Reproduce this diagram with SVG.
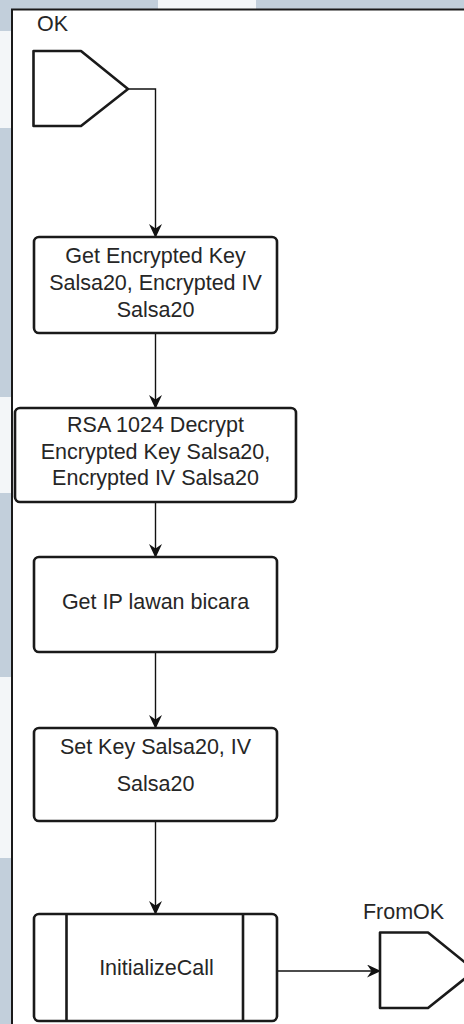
<svg xmlns="http://www.w3.org/2000/svg" width="464" height="1024" viewBox="0 0 464 1024">
  <defs>
    <style>
      .frame { fill: none; stroke: #1a1a1a; }
      .node { fill: #ffffff; stroke: #1a1a1a; stroke-width: 2.6; stroke-linejoin: round; }
      .edge { fill: none; stroke: #111111; stroke-width: 1.4; }
      .label { font-family: "Liberation Sans", Arial, sans-serif; font-size: 21.5px; fill: #262626; text-anchor: middle; }
      .bg { fill: #c2cfdb; }
      .bgl { fill: #f3f6f8; }
    </style>
    <marker id="arrow" markerUnits="userSpaceOnUse" markerWidth="14" markerHeight="13" viewBox="0 0 14 13" refX="13" refY="6.5" orient="auto">
      <path d="M0,0 L14,6.5 L0,13 L4.5,6.5 Z" fill="#111111"/>
    </marker>
  </defs>

  <!-- page background and window edges -->
  <rect x="0" y="0" width="464" height="1024" fill="#ffffff"/>
  <g id="backdrop">
    <rect class="bg" x="0" y="0" width="158" height="9"/>
    <rect class="bgl" x="158" y="0" width="98" height="9"/>
    <rect class="bg" x="256" y="0" width="208" height="9"/>
    <rect class="bg" x="0" y="0" width="12" height="31"/>
    <rect class="bgl" x="0" y="31" width="12" height="97"/>
    <rect class="bg" x="0" y="128" width="12" height="269"/>
    <rect class="bgl" x="0" y="397" width="12" height="96"/>
    <rect class="bg" x="0" y="493" width="12" height="184"/>
    <rect class="bgl" x="0" y="677" width="12" height="181"/>
    <rect class="bg" x="0" y="858" width="12" height="166"/>
    <path class="frame" d="M12,1024 L12,9.5 L464,9.5" stroke-width="2"/>
  </g>

  <!-- connectors -->
  <g id="connectors">
    <path class="edge" d="M128,89 L155.5,89 L155.5,237" marker-end="url(#arrow)"/>
    <path class="edge" d="M155.5,333 L155.5,408" marker-end="url(#arrow)"/>
    <path class="edge" d="M155.5,502 L155.5,557" marker-end="url(#arrow)"/>
    <path class="edge" d="M155.5,652 L155.5,728" marker-end="url(#arrow)"/>
    <path class="edge" d="M155.5,821 L155.5,914" marker-end="url(#arrow)"/>
    <path class="edge" d="M277,971 L380,971" marker-end="url(#arrow)"/>
  </g>

  <!-- start connector: OK -->
  <g id="ok">
    <path class="node" d="M33.5,51 L81,51 L128,89 L81,126 L33.5,126 Z"/>
    <text class="label" x="52.5" y="31">OK</text>
  </g>

  <g id="get-encrypted">
    <rect class="node" x="34" y="237" width="243" height="96" rx="5"/>
    <text class="label" x="155.5" y="263">Get Encrypted Key</text>
    <text class="label" x="155.5" y="290">Salsa20, Encrypted IV</text>
    <text class="label" x="155.5" y="317">Salsa20</text>
  </g>

  <g id="rsa-decrypt">
    <rect class="node" x="15" y="408" width="281" height="94" rx="5"/>
    <text class="label" x="155.5" y="432">RSA 1024 Decrypt</text>
    <text class="label" x="155.5" y="458.5">Encrypted Key Salsa20,</text>
    <text class="label" x="155.5" y="485">Encrypted IV Salsa20</text>
  </g>

  <g id="get-ip">
    <rect class="node" x="34" y="557" width="243" height="95" rx="5"/>
    <text class="label" x="155.5" y="609">Get IP lawan bicara</text>
  </g>

  <g id="set-key">
    <rect class="node" x="34" y="728" width="243" height="93" rx="5"/>
    <text class="label" x="155.5" y="754">Set Key Salsa20, IV</text>
    <text class="label" x="155.5" y="791">Salsa20</text>
  </g>

  <!-- predefined process -->
  <g id="initialize-call">
    <rect class="node" x="34" y="914" width="243" height="107" rx="5"/>
    <line class="node" x1="66.5" y1="914" x2="66.5" y2="1021"/>
    <line class="node" x1="243" y1="914" x2="243" y2="1021"/>
    <text class="label" x="156.5" y="975">InitializeCall</text>
  </g>

  <!-- end connector: FromOK -->
  <g id="from-ok">
    <path class="node" d="M380,932.5 L428,932.5 L475,970.5 L428,1008 L380,1008 Z"/>
    <text class="label" x="403.5" y="919">FromOK</text>
  </g>
</svg>
